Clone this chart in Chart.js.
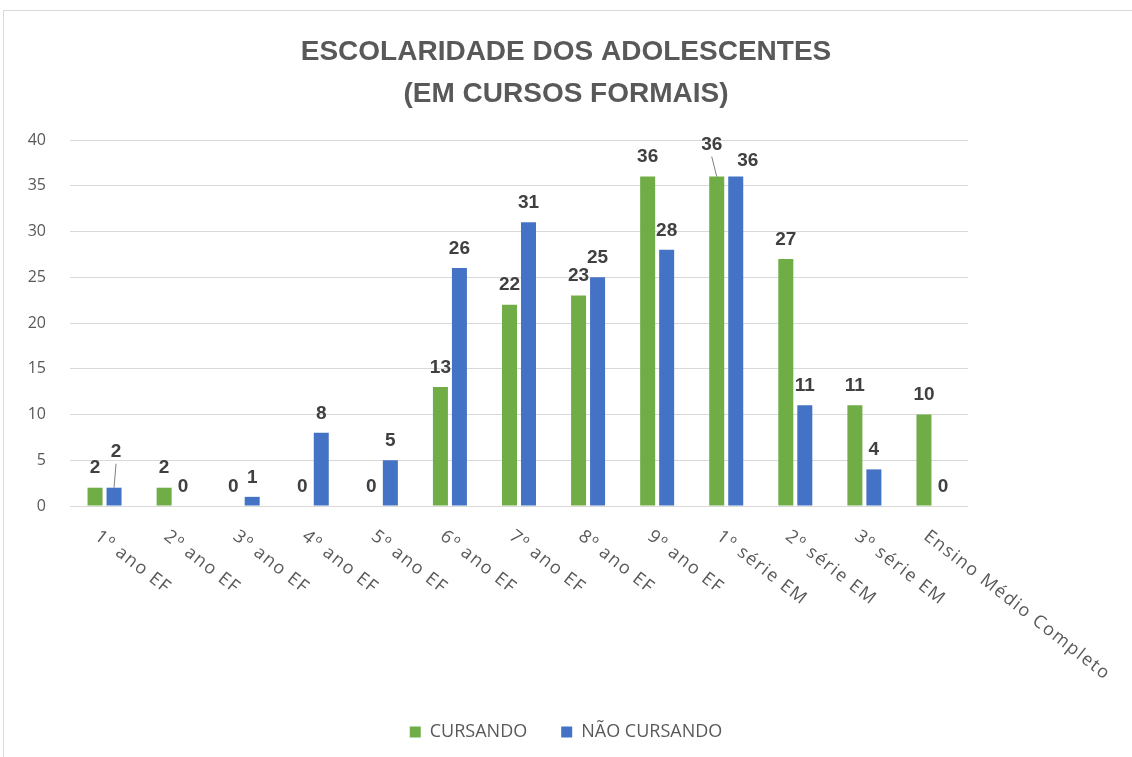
<!DOCTYPE html>
<html>
<head>
<meta charset="utf-8">
<script src="https://cdn.jsdelivr.net/npm/chart.js@4/dist/chart.umd.min.js"></script>
<style>
  html, body { margin: 0; padding: 0; background: #fff; overflow: hidden; }
  #frame { position: absolute; left: 3px; top: 10px; width: 1140px; height: 760px;
           border: 1px solid #d9d9d9; box-sizing: border-box; }
  #wrap { position: absolute; left: 0; top: 0; width: 1132px; height: 757px; }
</style>
</head>
<body>
<div id="frame"></div>
<div id="wrap"><canvas id="chart"></canvas></div>
<script>
const categories = ['1º ano EF', '2º ano EF', '3º ano EF', '4º ano EF', '5º ano EF', '6º ano EF',
                    '7º ano EF', '8º ano EF', '9º ano EF', '1º série EM', '2º série EM', '3º série EM',
                    'Ensino Médio Completo'];
const cursando    = [2, 2, 0, 0, 0, 13, 22, 23, 36, 36, 27, 11, 10];
const naoCursando = [2, 0, 1, 8, 5, 26, 31, 25, 28, 36, 11, 4, 0];
const yMin = 0, yMax = 40, yStep = 5;

const green = '#70ad47';
const blue  = '#4472c4';

// a few labels were dragged aside in the original, keyed 'dataset:index'
const nudge = {
  '1:0': { dx: 2, dy: -16, leader: true },
  '0:9': { dx: -5, dy: -12, leader: true },
  '1:9': { dx: 12, dy: 4 }
};

// numbers above the bars
const valueLabels = {
  id: 'valueLabels',
  afterDatasetsDraw(chart) {
    const ctx = chart.ctx;
    ctx.save();
    ctx.font = 'bold 19px "Liberation Sans", Arial, sans-serif';
    ctx.fillStyle = '#404040';
    ctx.strokeStyle = '#7f7f7f';
    ctx.lineWidth = 1;
    ctx.textAlign = 'center';
    ctx.textBaseline = 'bottom';
    chart.data.datasets.forEach((ds, i) => {
      chart.getDatasetMeta(i).data.forEach((bar, j) => {
        const n = nudge[i + ':' + j] || { dx: 0, dy: 0 };
        const x = bar.x + n.dx, y = bar.y - 10 + n.dy;
        if (n.leader) {
          ctx.beginPath();
          ctx.moveTo(x, y + 2);
          ctx.lineTo(bar.x, bar.y);
          ctx.stroke();
        }
        ctx.fillText(ds.data[j], x, y);
      });
    });
    ctx.restore();
  }
};

// category labels slanted downwards like the spreadsheet does
const slantedLabels = {
  id: 'slantedLabels',
  afterDraw(chart) {
    const ctx = chart.ctx;
    const xs = chart.scales.x;
    const top = chart.chartArea.bottom;
    ctx.save();
    ctx.font = '18px "Open Sans", sans-serif';
    ctx.fillStyle = '#595959';
    ctx.textAlign = 'left';
    ctx.textBaseline = 'top';
    ctx.letterSpacing = '1.5px';
    categories.forEach((c, i) => {
      ctx.save();
      ctx.translate(xs.getPixelForValue(i) - 2, top + 21);
      ctx.rotate(38 * Math.PI / 180);
      ctx.fillText(c, 0, 0);
      ctx.restore();
    });
    ctx.restore();
  }
};

new Chart('chart', {
  type: 'bar',
  data: {
    labels: categories,
    datasets: [
      { label: 'CURSANDO', data: cursando, backgroundColor: green },
      { label: 'NÃO CURSANDO', data: naoCursando, backgroundColor: blue }
    ]
  },
  options: {
    responsive: true,
    maintainAspectRatio: false,
    animation: false,
    events: [],
    layout: { padding: { left: 0, right: 0, top: 0, bottom: 6 } },
    datasets: {
      bar: { categoryPercentage: 0.55, barPercentage: 0.79 }
    },
    scales: {
      x: {
        grid: { display: false },
        border: { display: false },
        ticks: { display: false },
        afterFit: (s) => { s.height = 183; }
      },
      y: {
        min: yMin,
        max: yMax,
        ticks: { stepSize: yStep, padding: 24, color: '#595959',
                 font: { family: '"Open Sans", sans-serif', size: 16 } },
        grid: { color: '#d9d9d9', drawTicks: false },
        border: { display: false },
        afterFit: (s) => { s.width = 70; }
      },
      // empty right-hand axis, only there to keep room for the long slanted label
      spare: {
        position: 'right',
        min: yMin,
        max: yMax,
        ticks: { display: false },
        grid: { display: false },
        border: { display: false },
        afterFit: (s) => { s.width = 164; }
      }
    },
    plugins: {
      title: {
        display: true,
        text: ['ESCOLARIDADE DOS ADOLESCENTES', '(EM CURSOS FORMAIS)'],
        color: '#595959',
        font: { family: '"Liberation Sans", Arial, sans-serif', size: 28, weight: 'bold', lineHeight: 1.5 },
        padding: { top: 31, bottom: 25 }
      },
      legend: {
        position: 'bottom',
        labels: {
          color: '#595959',
          boxWidth: 11,
          boxHeight: 11,
          padding: 34,
          font: { family: '"Open Sans", sans-serif', size: 18 }
        }
      },
      tooltip: { enabled: false }
    }
  },
  plugins: [valueLabels, slantedLabels]
});
</script>
</body>
</html>
